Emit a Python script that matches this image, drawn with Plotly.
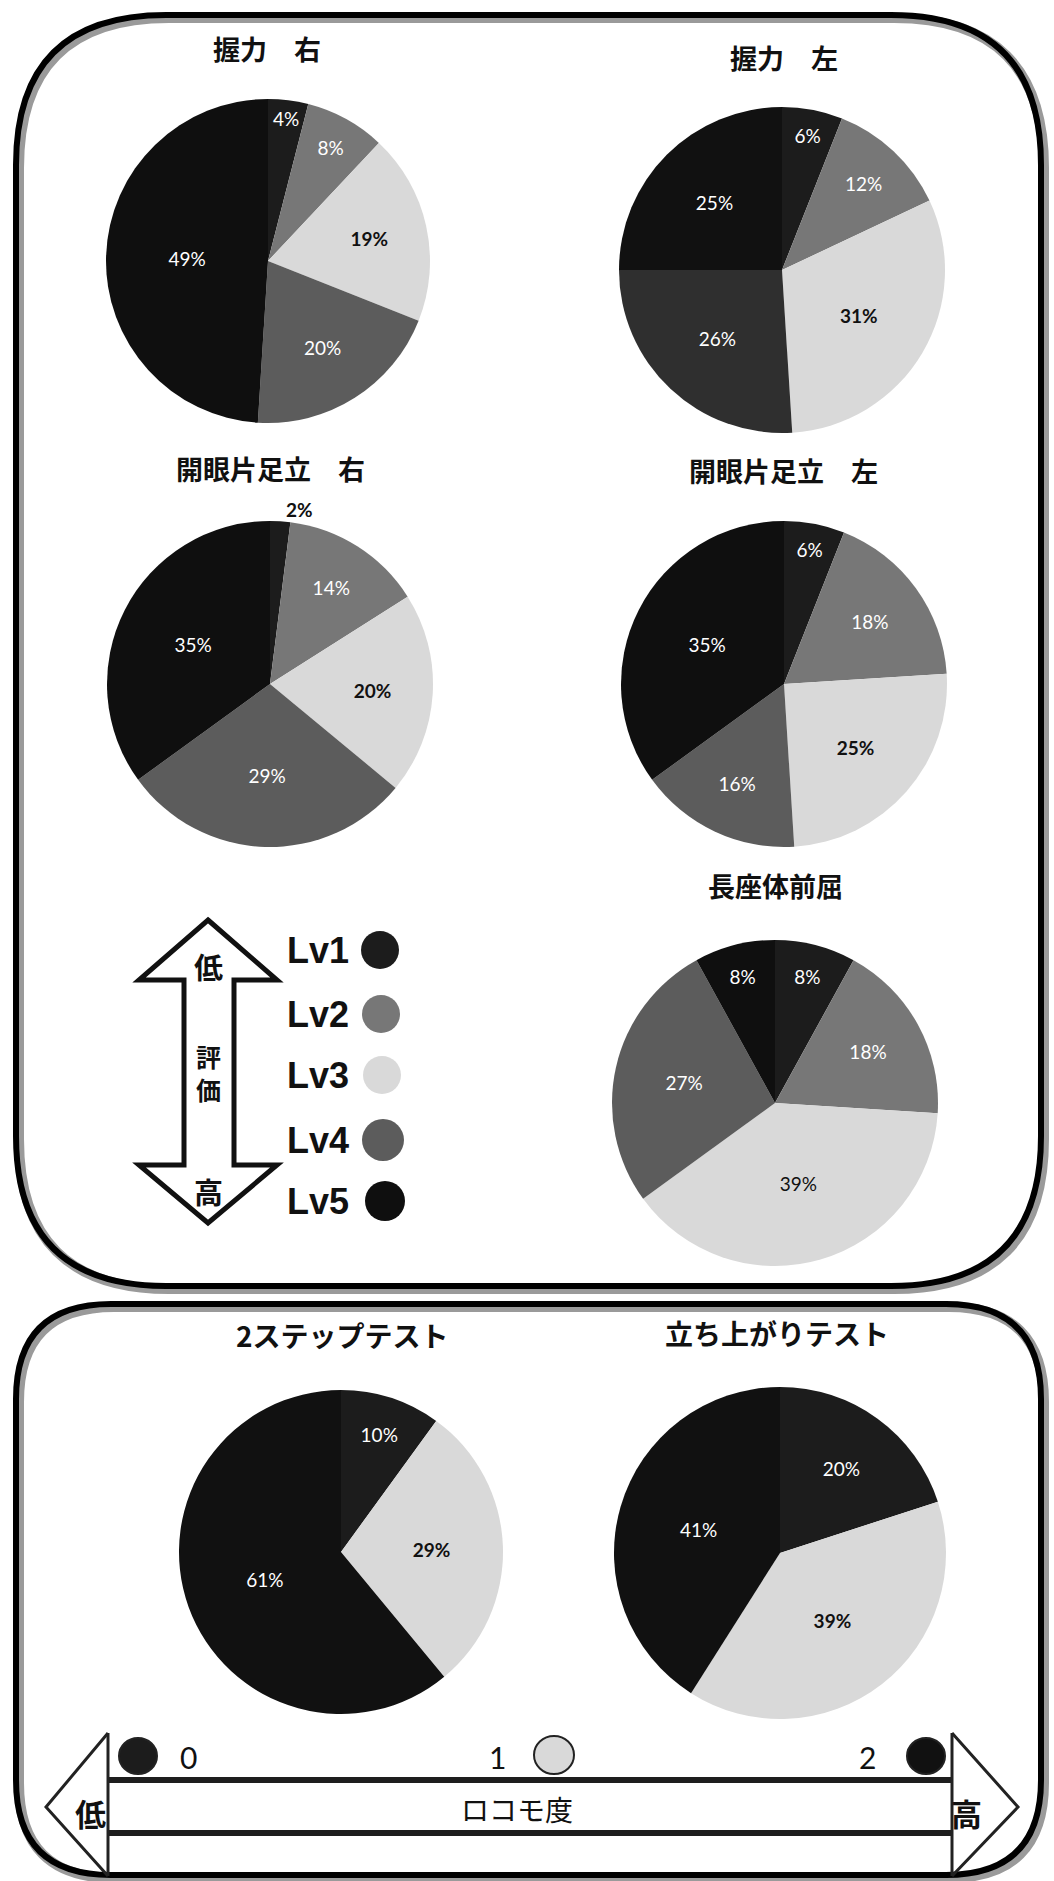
import plotly.graph_objects as go

W, H = 1054, 1881

# ---------------- data ----------------
levels = ["Lv1", "Lv2", "Lv3", "Lv4", "Lv5"]
titles_top = ["握力　右", "握力　左", "開眼片足立　右", "開眼片足立　左", "長座体前屈"]
grip_right = [4, 8, 19, 20, 49]
grip_left = [6, 12, 31, 26, 25]
stand_right = [2, 14, 20, 29, 35]
stand_left = [6, 18, 25, 16, 35]
sit_reach = [8, 18, 39, 27, 8]

loco_levels = ["0", "1", "2"]
titles_bottom = ["2ステップテスト", "立ち上がりテスト"]
two_step = [10, 29, 61]
stand_up = [20, 39, 41]

# ---------------- style ----------------
lv_colors = ["#1c1c1c", "#777777", "#d9d9d9", "#5c5c5c", "#0f0f0f"]
lv_colors_grip_left = ["#1c1c1c", "#777777", "#d9d9d9", "#2f2f2f", "#111111"]
loco_colors = ["#1c1c1c", "#d9d9d9", "#111111"]

PCT_FONT = "Lato, 'Open Sans', sans-serif"
CJK = "'Noto Sans CJK JP', sans-serif"


def dom(cx, cy, r):
    return dict(x=[(cx - r) / W, (cx + r) / W], y=[1 - (cy + r) / H, 1 - (cy - r) / H])


def labels_for(vals, colors, light_bold=True):
    txt, cols = [], []
    for v, c in zip(vals, colors):
        light = c.lower() in ("#d9d9d9",)
        if light and light_bold:
            txt.append(f"<b>{v}%</b>")
        else:
            txt.append(f"{v}%")
        cols.append("#111111" if light else "#ffffff")
    return txt, cols


fig = go.Figure()

# dummy trace to create pixel-coordinate axes for shapes/annotations
fig.add_trace(go.Scatter(x=[0, W], y=[0, H], mode="markers", marker=dict(opacity=0),
                         hoverinfo="skip", showlegend=False))

pies = [
    (grip_right, levels, lv_colors, (268, 261, 162), True),
    (grip_left, levels, lv_colors_grip_left, (782, 270, 163), True),
    (stand_right, levels, lv_colors, (270, 684, 163), True),
    (stand_left, levels, lv_colors, (784, 684, 163), True),
    (sit_reach, levels, lv_colors, (775, 1103, 163), False),
    (two_step, loco_levels, loco_colors, (341, 1552, 162), True),
    (stand_up, loco_levels, loco_colors, (780, 1553, 166), True),
]

for vals, labs, cols, (cx, cy, r), bold in pies:
    txt, tcols = labels_for(vals, cols, bold)
    pos = ["inside"] * len(vals)
    tc = list(tcols)
    for i, v in enumerate(vals):
        if v <= 2:
            pos[i] = "outside"
            tc[i] = "#111111"
            txt[i] = f"<b>{v}%</b>"
    fig.add_trace(go.Pie(
        values=vals, labels=labs, sort=False, direction="clockwise", rotation=0,
        marker=dict(colors=cols, line=dict(width=0)),
        text=txt, textinfo="text", textposition=pos,
        insidetextorientation="horizontal",
        textfont=dict(family=PCT_FONT, size=19, color=tc),
        hoverinfo="skip", showlegend=False, domain=dom(cx, cy, r),
    ))

# ---------------- shapes ----------------
shapes = []


def rrect(x0, y0, x1, y1, r):
    return (f"M{x0+r},{y0} L{x1-r},{y0} Q{x1},{y0} {x1},{y0+r} L{x1},{y1-r} "
            f"Q{x1},{y1} {x1-r},{y1} L{x0+r},{y1} Q{x0},{y1} {x0},{y1-r} "
            f"L{x0},{y0+r} Q{x0},{y0} {x0+r},{y0} Z")


for (x0, y0, x1, y1, r) in [(16, 15, 1041, 1286, 150), (16, 1304, 1041, 1875, 95)]:
    shapes.append(dict(type="path", xref="x", yref="y", path=rrect(x0 + 3, y0 + 3, x1 + 3, y1 + 3, r),
                       line=dict(color="#9a9a9a", width=10), layer="below"))
    shapes.append(dict(type="path", xref="x", yref="y", path=rrect(x0, y0, x1, y1, r),
                       line=dict(color="#000000", width=6), layer="above"))

# legend double arrow (評価)
arrow = ("M208,920 L277,980 L234,980 L234,1165 L277,1165 L208,1223 L139,1165 "
         "L184,1165 L184,980 L139,980 Z")
shapes.append(dict(type="path", xref="x", yref="y", path=arrow,
                   line=dict(color="#111111", width=5)))

# Lv circles
lv_circ = [(380, 950, 19), (381, 1014, 19), (382, 1075, 19), (383, 1140, 21), (385, 1201, 20)]
for (cx, cy, r), c in zip(lv_circ, lv_colors):
    shapes.append(dict(type="circle", xref="x", yref="y", x0=cx - r, x1=cx + r, y0=cy - r, y1=cy + r,
                       fillcolor=c, line=dict(width=0)))

# bottom horizontal arrow (ロコモ度)
for y in (1780, 1833):
    shapes.append(dict(type="line", xref="x", yref="y", x0=108, x1=952, y0=y, y1=y,
                       line=dict(color="#1e1e1e", width=6)))
for x in (108, 952):
    shapes.append(dict(type="line", xref="x", yref="y", x0=x, x1=x, y0=1733, y1=1876,
                       line=dict(color="#222222", width=3)))
shapes.append(dict(type="path", xref="x", yref="y", path="M108,1733 L46,1807 L108,1876",
                   line=dict(color="#222222", width=3)))
shapes.append(dict(type="path", xref="x", yref="y", path="M952,1733 L1018,1807 L952,1876",
                   line=dict(color="#222222", width=3)))

# loco legend circles
loco_circ = [(138, 1756, 19), (554, 1755, 20), (926, 1756, 19)]
for (cx, cy, r), c in zip(loco_circ, loco_colors):
    shapes.append(dict(type="circle", xref="x", yref="y", x0=cx - r, x1=cx + r, y0=cy - r + 1, y1=cy + r - 1,
                       fillcolor=c, line=dict(color="#222222", width=2)))

# ---------------- annotations ----------------
ann = []


def text(x, y, s, size, family=CJK, color="#111111"):
    ann.append(dict(x=x, y=y, xref="x", yref="y", text=s, showarrow=False,
                    font=dict(family=family, size=size, color=color),
                    xanchor="center", yanchor="middle"))


title_pos = [(267, 48), (784, 57), (270, 468), (783, 470), (775, 885)]
for (x, y), t in zip(title_pos, titles_top):
    text(x, y, f"<b>{t}</b>", 27)
for (x, y), t in zip([(342, 1335), (777, 1333)], titles_bottom):
    text(x, y, f"<b>{t}</b>", 28)

# legend labels
for (cx, cy, r), lv in zip(lv_circ, levels):
    ann.append(dict(x=285, y=cy, xref="x", yref="y", text=f"<b>{lv}</b>", showarrow=False,
                    font=dict(family="'Liberation Sans', Arial, sans-serif", size=36, color="#111111"),
                    xanchor="left", yanchor="middle"))
text(208, 966, "<b>低</b>", 29)
text(208, 1072, "<b>評<br>価</b>", 25)
text(208, 1191, "<b>高</b>", 29)

# loco scale
for (x, s) in [(188, "0"), (497, "1"), (867, "2")]:
    text(x, 1757, s, 30, family=PCT_FONT)
text(90, 1812, "<b>低</b>", 31)
text(966, 1812, "<b>高</b>", 31)
text(517, 1809, "ロコモ度", 28)

fig.update_layout(
    width=W, height=H, margin=dict(l=0, r=0, t=0, b=0),
    paper_bgcolor="white", plot_bgcolor="white",
    xaxis=dict(range=[0, W], visible=False, fixedrange=True, domain=[0, 1]),
    yaxis=dict(range=[H, 0], visible=False, fixedrange=True, domain=[0, 1]),
    shapes=shapes, annotations=ann, showlegend=False,
)

fig.write_html("out.html", config={"displayModeBar": False},
               post_script="document.body.style.margin='0';document.body.style.overflow='hidden';")
